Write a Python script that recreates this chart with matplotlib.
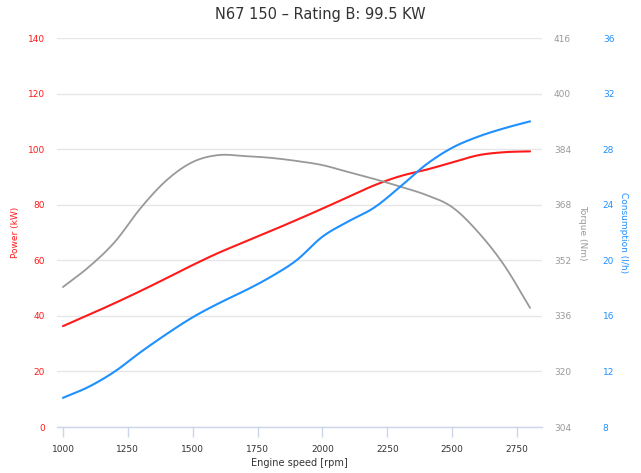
import numpy as np
import matplotlib
matplotlib.use("Agg")
import matplotlib.pyplot as plt

rpm = [1000, 1100, 1200, 1300, 1400, 1500, 1600, 1700, 1800, 1900,
       2000, 2100, 2200, 2300, 2400, 2500, 2600, 2700, 2800]
power = [36.3, 40.4, 44.6, 49.0, 53.6, 58.3, 62.7, 66.6, 70.5, 74.5,
         78.6, 82.8, 87.0, 90.3, 92.6, 95.2, 97.8, 98.9, 99.2]
torque = [344.3, 350.1, 357.3, 367.1, 375.1, 380.3, 382.3, 382.0, 381.5, 380.6,
          379.4, 377.4, 375.4, 373.2, 370.8, 367.3, 360.1, 350.6, 338.3]
consumption = [10.1, 10.9, 12.0, 13.4, 14.7, 15.9, 16.9, 17.8, 18.8, 20.0,
               21.7, 22.8, 23.8, 25.3, 26.9, 28.1, 28.9, 29.5, 30.0]

x_ticks = [1000, 1250, 1500, 1750, 2000, 2250, 2500, 2750]
power_ticks = [0, 20, 40, 60, 80, 100, 120, 140]
torque_ticks = [304, 320, 336, 352, 368, 384, 400, 416]
cons_ticks = [8, 12, 16, 20, 24, 28, 32, 36]

RED = "#ff1a1a"
GRAY = "#999999"
BLUE = "#1e90ff"


def smooth(x, y, n=20):
    # catmull-rom spline through the points, only for drawing
    x = np.asarray(x, float)
    y = np.asarray(y, float)
    px = np.concatenate([[2 * x[0] - x[1]], x, [2 * x[-1] - x[-2]]])
    py = np.concatenate([[2 * y[0] - y[1]], y, [2 * y[-1] - y[-2]]])
    xs, ys = [], []
    t = np.linspace(0, 1, n, endpoint=False)
    for i in range(1, len(px) - 2):
        for p, out in ((px, xs), (py, ys)):
            p0, p1, p2, p3 = p[i - 1], p[i], p[i + 1], p[i + 2]
            out.extend(0.5 * (2 * p1 + (-p0 + p2) * t + (2 * p0 - 5 * p1 + 4 * p2 - p3) * t ** 2
                              + (-p0 + 3 * p1 - 3 * p2 + p3) * t ** 3))
    xs.append(x[-1])
    ys.append(y[-1])
    return np.array(xs), np.array(ys)


fig = plt.figure(figsize=(6.41, 4.73), dpi=100)
ax = fig.add_axes([57 / 641, 46 / 473, 485 / 641, 389 / 473])
ax2 = ax.twinx()
ax3 = ax.twinx()

ax.set_xlim(977, 2846)
ax.set_ylim(0, 140)
ax2.set_ylim(304, 416)
ax3.set_ylim(8, 36)

for a in (ax, ax2, ax3):
    for s in a.spines.values():
        s.set_visible(False)
ax.spines['bottom'].set_visible(True)
ax.spines['bottom'].set_color("#ccd6eb")
ax.spines['bottom'].set_linewidth(1)

ax.set_xticks(x_ticks)
ax.set_xticklabels([str(v) for v in x_ticks])
ax.tick_params(axis='x', length=7, width=1, color="#ccd6eb", labelsize=6.5,
               labelcolor="#333333", pad=6)
ax.set_yticks(power_ticks)
ax.tick_params(axis='y', length=0, labelsize=6.5, labelcolor=RED, pad=8.5)
ax.grid(axis='y', color="#e6e6e6", linewidth=1)
ax.set_axisbelow(True)

ax2.set_yticks(torque_ticks)
ax2.tick_params(axis='y', length=0, labelsize=6.5, labelcolor=GRAY, pad=8.5)
ax3.spines['right'].set_position(('outward', 35.3))
ax3.set_yticks(cons_ticks)
ax3.tick_params(axis='y', length=0, labelsize=6.5, labelcolor=BLUE, pad=8.5)

ax.set_xlabel("Engine speed [rpm]", fontsize=7, color="#333333", labelpad=3)
ax.set_ylabel("Power (kW)", fontsize=6.5, color=RED, labelpad=6)
ax2.set_ylabel("Torque (Nm)", fontsize=6.5, color=GRAY, rotation=270, labelpad=5,
               va='bottom')
ax3.set_ylabel("Consumption (l/h)", fontsize=6.5, color=BLUE, rotation=270, labelpad=3.5,
               va='bottom')

xs, ys = smooth(rpm, power)
ax.plot(xs, ys, color=RED, lw=1.5, solid_capstyle='round')
xs, ys = smooth(rpm, torque)
ax2.plot(xs, ys, color=GRAY, lw=1.3, solid_capstyle='round')
xs, ys = smooth(rpm, consumption)
ax3.plot(xs, ys, color=BLUE, lw=1.5, solid_capstyle='round')

fig.suptitle("N67 150 – Rating B: 99.5 KW", fontsize=10.5, color="#333333", y=0.985)

fig.savefig("out.png", dpi=100)
